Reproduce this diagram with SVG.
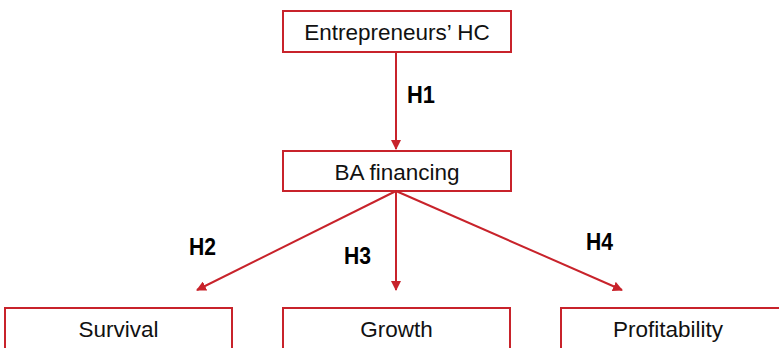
<svg xmlns="http://www.w3.org/2000/svg" width="779" height="348" viewBox="0 0 779 348">
  <defs>
    <marker id="head" viewBox="0 0 10 10" refX="9" refY="5" markerWidth="5" markerHeight="5" orient="auto" markerUnits="strokeWidth">
      <path d="M0,0 L10,5 L0,10 z" fill="#c8232b"/>
    </marker>
    <style>
      .box { fill: #ffffff; stroke: #c8232b; stroke-width: 2; }
      .label { font-family: "Liberation Sans", Arial, sans-serif; font-size: 22.5px; fill: #111111; text-anchor: middle; }
      .hyp { font-family: "Liberation Sans", Arial, sans-serif; font-size: 24.5px; font-weight: bold; fill: #000000; }
      .link { stroke: #c8232b; stroke-width: 2; fill: none; marker-end: url(#head); }
    </style>
  </defs>
  <rect width="779" height="348" fill="#ffffff"/>

  <g id="connectors">
    <line class="link" x1="396" y1="52" x2="396" y2="149"/>
    <line class="link" x1="396" y1="191" x2="197" y2="290"/>
    <line class="link" x1="396" y1="191" x2="396" y2="290"/>
    <line class="link" x1="396" y1="191" x2="622" y2="290"/>
    <text class="hyp" x="407" y="103" textLength="28" lengthAdjust="spacingAndGlyphs">H1</text>
    <text class="hyp" x="189" y="255" textLength="27" lengthAdjust="spacingAndGlyphs">H2</text>
    <text class="hyp" x="344" y="264" textLength="27" lengthAdjust="spacingAndGlyphs">H3</text>
    <text class="hyp" x="586" y="250" textLength="27" lengthAdjust="spacingAndGlyphs">H4</text>
  </g>

  <g id="entrepreneurs-hc">
    <rect class="box" x="283" y="11" width="228" height="41"/>
    <text class="label" x="397" y="39.5">Entrepreneurs’ HC</text>
  </g>

  <g id="ba-financing">
    <rect class="box" x="283" y="151" width="228" height="40"/>
    <text class="label" x="397" y="180">BA financing</text>
  </g>

  <g id="survival">
    <rect class="box" x="5" y="308" width="227" height="60"/>
    <text class="label" x="118.5" y="337">Survival</text>
  </g>

  <g id="growth">
    <rect class="box" x="283" y="308" width="227" height="60"/>
    <text class="label" x="396.5" y="337">Growth</text>
  </g>

  <g id="profitability">
    <rect class="box" x="561" y="308" width="230" height="60"/>
    <text class="label" x="668" y="337">Profitability</text>
  </g>
</svg>
